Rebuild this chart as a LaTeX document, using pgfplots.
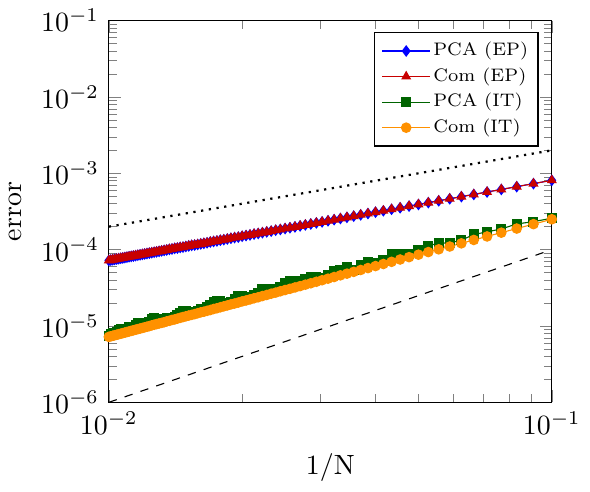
\documentclass[border=0pt]{standalone}
\usepackage{pgfplots}
\usepackage{pgfplotstable}
\pgfplotsset{compat=1.18}
\definecolor{myred}{RGB}{200,0,0}
\definecolor{mygreen}{RGB}{0,100,0}
\definecolor{myorange}{RGB}{255,145,0}

% x = 1/N, N = 10..100
\pgfplotstableread{
x        ep        pcait     comit
0.1      8.10e-4   2.58e-4   2.50e-4
0.090909 7.33e-4   2.33e-4   2.16e-4
0.083333 6.69e-4   2.17e-4   1.89e-4
0.076923 6.15e-4   1.87e-4   1.67e-4
0.071429 5.69e-4   1.71e-4   1.49e-4
0.066667 5.29e-4   1.58e-4   1.34e-4
0.0625   4.95e-4   1.33e-4   1.21e-4
0.058824 4.64e-4   1.23e-4   1.10e-4
0.055556 4.37e-4   1.21e-4   1.01e-4
0.052632 4.13e-4   1.13e-4   9.30e-5
0.05     3.91e-4   9.89e-5   8.60e-5
0.047619 3.72e-4   8.78e-5   7.98e-5
0.045455 3.54e-4   8.77e-5   7.43e-5
0.043478 3.38e-4   8.66e-5   6.93e-5
0.041667 3.23e-4   7.27e-5   6.49e-5
0.04     3.10e-4   6.71e-5   6.10e-5
0.038462 2.97e-4   6.89e-5   5.74e-5
0.037037 2.86e-4   6.23e-5   5.42e-5
0.035714 2.75e-4   5.38e-5   5.12e-5
0.034483 2.65e-4   5.92e-5   4.85e-5
0.033333 2.56e-4   5.44e-5   4.61e-5
0.032258 2.47e-4   5.26e-5   4.38e-5
0.03125  2.39e-4   4.67e-5   4.17e-5
0.030303 2.31e-4   4.30e-5   3.98e-5
0.029412 2.24e-4   4.37e-5   3.80e-5
0.028571 2.17e-4   4.43e-5   3.63e-5
0.027778 2.11e-4   4.11e-5   3.48e-5
0.027027 2.05e-4   3.66e-5   3.33e-5
0.026316 1.99e-4   3.84e-5   3.20e-5
0.025641 1.94e-4   3.93e-5   3.07e-5
0.025    1.89e-4   3.70e-5   2.96e-5
0.02439  1.84e-4   3.28e-5   2.85e-5
0.02381  1.80e-4   3.01e-5   2.74e-5
0.023256 1.75e-4   2.97e-5   2.65e-5
0.022727 1.71e-4   3.01e-5   2.55e-5
0.022222 1.67e-4   3.01e-5   2.47e-5
0.021739 1.63e-4   2.74e-5   2.38e-5
0.021277 1.60e-4   2.54e-5   2.31e-5
0.020833 1.56e-4   2.41e-5   2.23e-5
0.020408 1.53e-4   2.42e-5   2.16e-5
0.02     1.50e-4   2.48e-5   2.10e-5
0.019608 1.46e-4   2.44e-5   2.03e-5
0.019231 1.44e-4   2.27e-5   1.97e-5
0.018868 1.41e-4   2.07e-5   1.92e-5
0.018519 1.38e-4   1.95e-5   1.86e-5
0.018182 1.35e-4   2.03e-5   1.81e-5
0.017857 1.33e-4   2.11e-5   1.76e-5
0.017544 1.30e-4   2.14e-5   1.71e-5
0.017241 1.28e-4   2.04e-5   1.67e-5
0.016949 1.26e-4   1.91e-5   1.62e-5
0.016667 1.23e-4   1.77e-5   1.58e-5
0.016393 1.21e-4   1.66e-5   1.54e-5
0.016129 1.19e-4   1.66e-5   1.51e-5
0.015873 1.17e-4   1.59e-5   1.47e-5
0.015625 1.15e-4   1.52e-5   1.43e-5
0.015385 1.14e-4   1.54e-5   1.40e-5
0.015152 1.12e-4   1.53e-5   1.37e-5
0.014925 1.10e-4   1.58e-5   1.34e-5
0.014706 1.08e-4   1.57e-5   1.31e-5
0.014493 1.07e-4   1.47e-5   1.28e-5
0.014286 1.05e-4   1.38e-5   1.25e-5
0.014085 1.04e-4   1.32e-5   1.22e-5
0.013889 1.02e-4   1.27e-5   1.20e-5
0.013699 1.01e-4   1.29e-5   1.17e-5
0.013514 9.91e-5   1.29e-5   1.15e-5
0.013333 9.77e-5   1.21e-5   1.12e-5
0.013158 9.63e-5   1.17e-5   1.10e-5
0.012987 9.50e-5   1.19e-5   1.08e-5
0.012821 9.37e-5   1.23e-5   1.06e-5
0.012658 9.25e-5   1.27e-5   1.04e-5
0.0125   9.13e-5   1.22e-5   1.02e-5
0.012346 9.01e-5   1.14e-5   9.97e-6
0.012195 8.89e-5   1.08e-5   9.79e-6
0.012048 8.78e-5   1.04e-5   9.61e-6
0.011905 8.67e-5   1.06e-5   9.43e-6
0.011765 8.56e-5   1.09e-5   9.26e-6
0.011628 8.46e-5   1.09e-5   9.10e-6
0.011494 8.36e-5   1.03e-5   8.94e-6
0.011364 8.25e-5   9.66e-6   8.78e-6
0.011236 8.16e-5   9.67e-6   8.63e-6
0.011111 8.07e-5   9.75e-6   8.48e-6
0.010989 7.97e-5   9.17e-6   8.34e-6
0.01087  7.88e-5   8.86e-6   8.20e-6
0.010753 7.79e-5   9.03e-6   8.06e-6
0.010638 7.71e-5   9.20e-6   7.93e-6
0.010526 7.62e-5   8.89e-6   7.80e-6
0.010417 7.54e-5   8.45e-6   7.68e-6
0.010309 7.46e-5   8.16e-6   7.56e-6
0.010204 7.38e-5   8.18e-6   7.44e-6
0.010101 7.30e-5   7.76e-6   7.32e-6
0.01     7.22e-5   7.50e-6   7.21e-6
}\errtable

\begin{document}
\begin{tikzpicture}
\begin{axis}[
    scale only axis,
    width=159pt,
    height=137pt,
    xmode=log,
    ymode=log,
    xmin=0.01, xmax=0.1,
    ymin=1e-6, ymax=1e-1,
    xlabel={1/N},
    ylabel={error},
    legend pos=north east,
    legend cell align=left,
    legend style={font=\fontsize{6.5}{7.5}\selectfont, inner xsep=2.5pt, inner ysep=2pt,
        nodes={inner xsep=1pt, inner ysep=1.4pt}},
]
\addplot[blue, mark=diamond*, mark size=1.8pt] table[x=x, y=ep] {\errtable};
\addlegendentry{PCA (EP)}
\addplot[myred, mark=triangle*, mark size=1.7pt] table[x=x, y=ep] {\errtable};
\addlegendentry{Com (EP)}
\addplot[mygreen, mark=square*, mark size=1.6pt] table[x=x, y=pcait] {\errtable};
\addlegendentry{PCA (IT)}
\addplot[myorange, mark=*, mark size=1.7pt] table[x=x, y=comit] {\errtable};
\addlegendentry{Com (IT)}
% reference slopes
\addplot[black, dotted, thick, forget plot] coordinates {(0.01,2e-4) (0.1,2e-3)};
\addplot[black, dashed, forget plot] coordinates {(0.01,1e-6) (0.1,1e-4)};
\end{axis}
\end{tikzpicture}
\end{document}
